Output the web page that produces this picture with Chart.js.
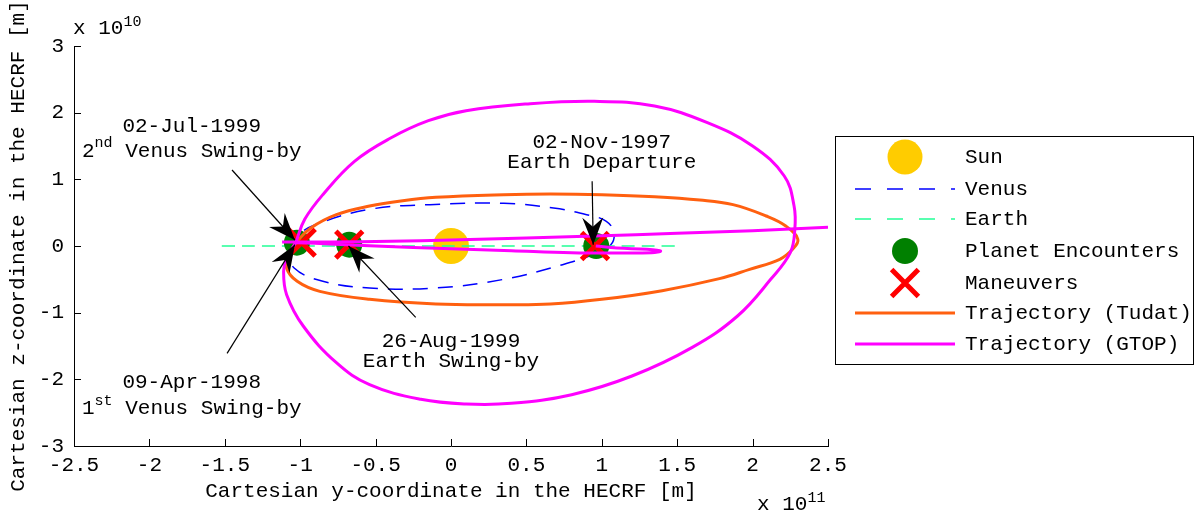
<!DOCTYPE html>
<html><head><meta charset="utf-8">
<script src="https://cdn.jsdelivr.net/npm/chart.js@4.4.0/dist/chart.umd.min.js"></script>
<style>html,body{margin:0;padding:0;background:#fff;overflow:hidden}#wrap{width:1199px;height:516px}</style>
</head><body><div id="wrap"><canvas id="c" width="1199" height="516"></canvas></div>
<script>
const FONT = '"Liberation Mono", "DejaVu Sans Mono", monospace';
// units: horizontal = y-coordinate in 1e11 m, vertical = z-coordinate in 1e10 m
const xTicks = [-2.5, -2, -1.5, -1, -0.5, 0, 0.5, 1, 1.5, 2, 2.5];
const yTicks = [-3, -2, -1, 0, 1, 2, 3];

const sunPos = [{x: 0, y: 0}];
const earthOrbit = [{x: -1.52, y: 0}, {x: 1.49, y: 0}];
const venusOrbit = [
  {x:-1.08,y:-0.05},{x:-1.02,y:0.15},{x:-0.90,y:0.32},{x:-0.54,y:0.55},{x:-0.14,y:0.62},
  {x:0.35,y:0.64},{x:0.68,y:0.57},{x:0.90,y:0.47},{x:1.03,y:0.37},{x:1.08,y:0.20},
  {x:1.06,y:0.02},{x:0.95,y:-0.12},{x:0.74,y:-0.28},{x:0.35,y:-0.50},{x:-0.10,y:-0.63},
  {x:-0.54,y:-0.63},{x:-0.85,y:-0.53},{x:-1.04,y:-0.33},{x:-1.08,y:-0.05}
];
const tudatTraj = [
  {x:-1.03,y:0.05},{x:-0.93,y:0.27},{x:-0.76,y:0.47},{x:-0.54,y:0.60},{x:-0.32,y:0.68},
  {x:-0.10,y:0.73},{x:0.35,y:0.77},{x:0.66,y:0.78},{x:1.00,y:0.77},{x:1.35,y:0.74},
  {x:1.65,y:0.69},{x:1.87,y:0.62},{x:2.09,y:0.45},{x:2.22,y:0.30},{x:2.30,y:0.10},
  {x:2.265,y:-0.05},{x:2.18,y:-0.20},{x:1.98,y:-0.35},{x:1.78,y:-0.49},{x:1.40,y:-0.67},
  {x:1.00,y:-0.80},{x:0.66,y:-0.87},{x:0.35,y:-0.88},{x:-0.10,y:-0.87},{x:-0.54,y:-0.80},
  {x:-0.87,y:-0.68},{x:-1.02,y:-0.53},{x:-1.09,y:-0.33},{x:-1.07,y:-0.12},{x:-1.03,y:0.05}
];
const gtopLoop = [
  {x:-1.03,y:0.05},{x:-0.97,y:0.40},{x:-0.85,y:0.77},{x:-0.64,y:1.27},{x:-0.40,y:1.62},
  {x:-0.15,y:1.88},{x:0.10,y:2.03},{x:0.50,y:2.13},{x:0.95,y:2.17},{x:1.35,y:2.10},
  {x:1.70,y:1.85},{x:2.00,y:1.50},{x:2.21,y:1.05},{x:2.275,y:0.60},{x:2.28,y:0.25},
  {x:2.25,y:-0.10},{x:2.12,y:-0.50},{x:1.90,y:-1.05},{x:1.60,y:-1.52},{x:1.20,y:-1.95},
  {x:0.80,y:-2.23},{x:0.40,y:-2.36},{x:0.10,y:-2.37},{x:-0.20,y:-2.30},{x:-0.54,y:-2.08},
  {x:-0.76,y:-1.75},{x:-0.98,y:-1.20},{x:-1.09,y:-0.73},{x:-1.11,y:-0.38},{x:-1.09,y:-0.18},
  {x:-1.03,y:0.05}
];
const gtopInner = [
  {x:0.96,y:0.0},{x:1.10,y:-0.03},{x:1.30,y:-0.05},{x:1.39,y:-0.075},{x:1.33,y:-0.10},
  {x:1.10,y:-0.105},{x:0.80,y:-0.10},{x:0.40,y:-0.07},{x:0.00,y:-0.04},{x:-0.50,y:0.00},
  {x:-0.90,y:0.04},{x:-1.03,y:0.05}
];
const gtopEscape = [
  {x:-1.12,y:0.06},{x:-0.80,y:0.06},{x:-0.40,y:0.07},{x:0.00,y:0.09},{x:0.50,y:0.12},
  {x:0.95,y:0.15},{x:1.50,y:0.19},{x:2.00,y:0.23},{x:2.50,y:0.28}
];
const encounters = [{x:-1.022,y:0.05},{x:-0.675,y:0.02},{x:0.963,y:0.0}];
const maneuvers = [{x:-0.99,y:0.05},{x:-0.675,y:0.02},{x:0.955,y:0.0}];
const arrowFrom = [{x:-1.452,y:1.14},{x:-1.485,y:-1.61},{x:-0.234,y:-1.07},{x:0.936,y:0.97}];
const arrowTo = [{x:-1.035,y:0.09},{x:-1.035,y:0.02},{x:-0.68,y:0.0},{x:0.943,y:0.02}];

const legendLabels = ['Sun','Venus','Earth','Planet Encounters','Maneuvers','Trajectory (Tudat)','Trajectory (GTOP)'];
const xTitle = 'Cartesian y-coordinate in the HECRF [m]';
const yTitle = 'Cartesian z-coordinate in the HECRF [m]';

const C = {sun:'#ffcc00', venus:'#0000ff', earth:'#22ff96', enc:'#008000', man:'#ff0000', tudat:'#ff6010', gtop:'#ff00ff'};

function lineDs(data, color, width, dash, order) {
  return {data, showLine:true, borderColor:color, borderWidth:width, borderDash:dash||[], pointRadius:0, tension:0.4, order, fill:false};
}
const datasets = [
  {data:sunPos, pointStyle:'circle', pointRadius:18, backgroundColor:C.sun, borderWidth:0, order:9},
  lineDs(venusOrbit, C.venus, 1.5, [15,10], 8),
  lineDs(earthOrbit, C.earth, 1.5, [13,7], 7),
  {data:encounters, pointStyle:'circle', pointRadius:13, backgroundColor:C.enc, borderWidth:0, order:6},
  {data:maneuvers, pointStyle:'crossRot', pointRadius:19, borderColor:C.man, backgroundColor:C.man, borderWidth:5, order:5},
  lineDs(tudatTraj, C.tudat, 3, null, 4),
  lineDs(gtopLoop, C.gtop, 3, null, 3),
  lineDs(gtopInner, C.gtop, 3, null, 3),
  lineDs(gtopEscape, C.gtop, 3, null, 3)
];
const arrowStart = datasets.length;
for (let i = 0; i < arrowFrom.length; i++) {
  const d = lineDs([arrowFrom[i], arrowTo[i]], '#000', 1.2, null, 1);
  d.tension = 0;
  datasets.push(d);
}

function drawSup(ctx, x, y, base, sup, rest) {
  ctx.font = '21px ' + FONT;
  ctx.fillText(base, x, y);
  let w = ctx.measureText(base).width;
  ctx.font = '15px ' + FONT;
  ctx.fillText(sup, x + w, y - 8);
  w += ctx.measureText(sup).width;
  ctx.font = '21px ' + FONT;
  if (rest) ctx.fillText(rest, x + w, y);
}

const extras = {
  id: 'extras',
  afterDatasetsDraw(chart) {
    const ctx = chart.ctx;
    ctx.save();
    ctx.fillStyle = '#000';
    for (let i = 0; i < arrowFrom.length; i++) {
      const pts = chart.getDatasetMeta(arrowStart + i).data;
      const a = pts[0], b = pts[1];
      const ang = Math.atan2(b.y - a.y, b.x - a.x);
      const L = 27, W = 10.5, N = 18;
      const cx = Math.cos(ang), sx = Math.sin(ang);
      ctx.beginPath();
      ctx.moveTo(b.x, b.y);
      ctx.lineTo(b.x - L * cx - W * sx, b.y - L * sx + W * cx);
      ctx.lineTo(b.x - N * cx, b.y - N * sx);
      ctx.lineTo(b.x - L * cx + W * sx, b.y - L * sx - W * cx);
      ctx.closePath();
      ctx.fill();
    }
    ctx.restore();
  },
  afterDraw(chart) {
    const ctx = chart.ctx;
    const xs = chart.scales.x, ys = chart.scales.y;
    const area = chart.chartArea;
    ctx.save();
    // inward ticks
    ctx.strokeStyle = '#000'; ctx.lineWidth = 1;
    ctx.beginPath();
    xTicks.forEach(v => { const p = Math.round(xs.getPixelForValue(v)) + 0.5; ctx.moveTo(p, area.bottom); ctx.lineTo(p, area.bottom - 7); });
    yTicks.forEach(v => { const p = Math.round(ys.getPixelForValue(v)) + 0.5; ctx.moveTo(area.left, p); ctx.lineTo(area.left + 7, p); });
    ctx.stroke();
    ctx.fillStyle = '#000';
    ctx.textBaseline = 'alphabetic';
    ctx.textAlign = 'left';
    // exponents
    drawSup(ctx, area.left - 1, 34, 'x 10', '10', '');
    drawSup(ctx, 757, 510, 'x 10', '11', '');
    // annotations
    ctx.textBaseline = 'middle';
    const X = v => xs.getPixelForValue(v), Y = v => ys.getPixelForValue(v);
    ctx.font = '21px ' + FONT;
    ctx.fillText('02-Jul-1999', X(-2.179), Y(1.79));
    drawSup(ctx, X(-2.447), Y(1.42), '2', 'nd', ' Venus Swing-by');
    ctx.fillText('09-Apr-1998', X(-2.179), Y(-2.05));
    drawSup(ctx, X(-2.447), Y(-2.44), '1', 'st', ' Venus Swing-by');
    ctx.textAlign = 'center';
    ctx.font = '21px ' + FONT;
    ctx.fillText('26-Aug-1999', X(0.0), Y(-1.43));
    ctx.fillText('Earth Swing-by', X(0.0), Y(-1.73));
    ctx.fillText('02-Nov-1997', X(1.0), Y(1.56));
    ctx.fillText('Earth Departure', X(1.0), Y(1.25));
    // legend
    ctx.textAlign = 'left';
    ctx.strokeStyle = '#000'; ctx.lineWidth = 1;
    ctx.strokeRect(835.5, 136.5, 358, 228);
    const rows = [157, 189, 219, 251, 283, 313, 344];
    const sx0 = 855, sx1 = 955, scx = 905;
    // sun
    ctx.fillStyle = C.sun; ctx.beginPath(); ctx.arc(scx, rows[0], 17.5, 0, Math.PI * 2); ctx.fill();
    // venus, earth dashed
    ctx.lineWidth = 1.5; ctx.setLineDash([16, 16]);
    ctx.strokeStyle = C.venus; ctx.beginPath(); ctx.moveTo(sx0, rows[1]); ctx.lineTo(sx1, rows[1]); ctx.stroke();
    ctx.strokeStyle = C.earth; ctx.beginPath(); ctx.moveTo(sx0, rows[2]); ctx.lineTo(sx1, rows[2]); ctx.stroke();
    ctx.setLineDash([]);
    // encounter
    ctx.fillStyle = C.enc; ctx.beginPath(); ctx.arc(scx, rows[3], 13, 0, Math.PI * 2); ctx.fill();
    // maneuver X
    ctx.strokeStyle = C.man; ctx.lineWidth = 5; const r = 13.4;
    ctx.beginPath(); ctx.moveTo(scx - r, rows[4] - r); ctx.lineTo(scx + r, rows[4] + r);
    ctx.moveTo(scx - r, rows[4] + r); ctx.lineTo(scx + r, rows[4] - r); ctx.stroke();
    // trajectories
    ctx.lineWidth = 3;
    ctx.strokeStyle = C.tudat; ctx.beginPath(); ctx.moveTo(sx0, rows[5]); ctx.lineTo(sx1, rows[5]); ctx.stroke();
    ctx.strokeStyle = C.gtop; ctx.beginPath(); ctx.moveTo(sx0, rows[6]); ctx.lineTo(sx1, rows[6]); ctx.stroke();
    ctx.fillStyle = '#000'; ctx.font = '21px ' + FONT; ctx.textBaseline = 'middle';
    legendLabels.forEach((t, i) => ctx.fillText(t, 965, rows[i]));
    ctx.restore();
  }
};

new Chart(document.getElementById('c'), {
  type: 'scatter',
  data: {datasets},
  options: {
    responsive: false, animation: false, events: [], devicePixelRatio: 1,
    layout: {padding: {top: 46, right: 371, left: 0, bottom: 0}},
    plugins: {legend: {display: false}, tooltip: {enabled: false}},
    scales: {
      x: {
        type: 'linear', min: -2.5, max: 2.5,
        afterBuildTicks: s => { s.ticks = xTicks.map(v => ({value: v})); },
        afterFit: s => { s.height = 70; },
        grid: {display: false, drawTicks: false},
        border: {display: true, color: '#000', width: 1},
        ticks: {color: '#000', font: {family: FONT, size: 21}, padding: 7, maxRotation: 0, autoSkip: false, callback: v => String(v)},
        title: {display: true, text: xTitle, color: '#000', font: {family: FONT, size: 21}, padding: {bottom: 12}}
      },
      y: {
        type: 'linear', min: -3, max: 3,
        afterBuildTicks: s => { s.ticks = yTicks.map(v => ({value: v})); },
        afterFit: s => { s.width = 74; },
        grid: {display: false, drawTicks: false},
        border: {display: true, color: '#000', width: 1},
        ticks: {color: '#000', font: {family: FONT, size: 21}, padding: 10, autoSkip: false, callback: v => String(v)},
        title: {display: true, text: yTitle, color: '#000', font: {family: FONT, size: 21}, padding: {top: 6}}
      }
    }
  },
  plugins: [extras]
});
</script>
</body></html>
